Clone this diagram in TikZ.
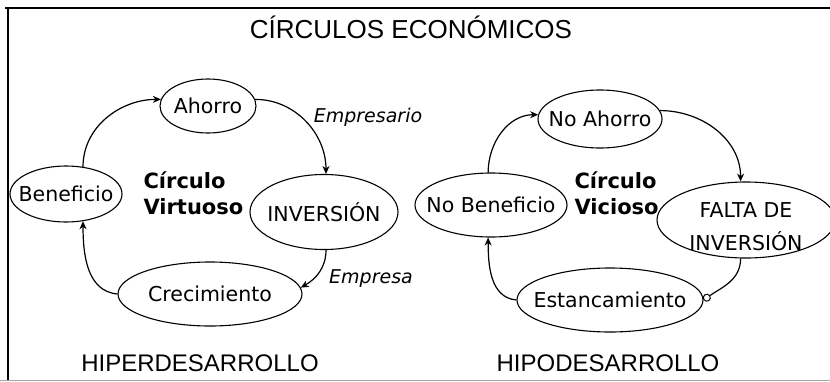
\documentclass[tikz,border=0pt]{standalone}
\usepackage{fontspec}
\setmainfont{DejaVu Sans}
\newfontfamily\arialf{Liberation Sans}
\usetikzlibrary{shapes.geometric,arrows.meta}
\begin{document}
\begin{tikzpicture}[x=1pt,y=-1pt,
  ell/.style={draw, ellipse, line width=1.1pt, inner sep=0pt},
  txt/.style={inner sep=0pt, font=\fontsize{20.5}{24}\selectfont},
  arr/.style={line width=1.2pt, -{Stealth[length=8pt,width=7pt]}},
  lab/.style={font=\fontsize{19}{23}\selectfont\itshape},
  bold/.style={font=\fontsize{21}{26}\selectfont\bfseries, align=left},
  big/.style={font=\arialf\fontsize{24}{28}\selectfont}]
\useasboundingbox (0,0) rectangle (830,381);
\fill[white] (0,0) rectangle (830,381);
% frame
\draw[line width=2.2pt] (5,8) -- (830,8);
\draw[line width=1.3pt] (8,8) -- (8,381);
\draw[line width=1pt, gray!70] (0,380) -- (830,380);
% titles
\node[big, font=\arialf\fontsize{26}{30}\selectfont] (title) at (411,27) {CÍRCULOS ECONÓMICOS};
\node[big] (hiper) at (200,363) {HIPERDESARROLLO};
\node[big] (hipo) at (608,363) {HIPODESARROLLO};
% left circle
\node[ell, minimum width=96pt, minimum height=54pt] (ahorro) at (208,106) {};
\node[txt] (ahorroT) at (ahorro.center) {Ahorro};
\node[ell, minimum width=112pt, minimum height=56pt] (benef) at (66,194) {};
\node[txt] (benefT) at (benef.center) {Beneficio};
\node[ell, minimum width=148pt, minimum height=75pt] (inver) at (324,212) {};
\node[txt] (inverT) at (inver.center) {INVERSIÓN};
\node[ell, minimum width=184pt, minimum height=64pt] (crec) at (210,294) {};
\node[txt] (crecT) at (crec.center) {Crecimiento};
\node[bold, anchor=west] (virt) at (140,193) {Círculo\\Virtuoso};
\node[lab] (empresario) at (368,117) {Empresario};
\node[lab] (empresa) at (371,279) {Empresa};
\draw[arr] (benef.58) to[out=90,in=180] (ahorro.172);
\draw[arr] (ahorro.8) to[out=0,in=90] (inver.87);
\draw[arr] (inver.-87) to[out=-90,in=30] (crec.4);
\draw[arr] (crec.west) to[out=175,in=-90] (benef.-58);
% right circle
\node[ell, minimum width=124pt, minimum height=58pt] (noah) at (600,119) {};
\node[txt] (noahT) at (noah.center) {No Ahorro};
\node[ell, minimum width=152pt, minimum height=64pt] (nobe) at (491,205) {};
\node[txt] (nobeT) at (nobe.center) {No Beneficio};
\node[ell, minimum width=178pt, minimum height=76pt] (falta) at (746,220) {};
\node[font=\fontsize{20.5}{33}\selectfont, align=center] (faltat) at (746,227) {FALTA DE\\INVERSIÓN};
\node[ell, minimum width=186pt, minimum height=64pt] (estan) at (610,300) {};
\node[txt] (estanT) at (estan.center) {Estancamiento};
\node[bold, anchor=west] (vic) at (571,193) {Círculo\\Vicioso};
\draw[arr] (nobe.95) to[out=90,in=180] (noah.176);
\draw[arr] (noah.8) to[out=0,in=90] (falta.98);
\draw[line width=1.2pt, -{Circle[open,length=8pt,width=8pt,line width=1pt]}] (falta.-98) to[out=-90,in=35] (estan.east);
\draw[arr] (estan.west) to[out=175,in=-90] (nobe.-95);
\end{tikzpicture}
\end{document}
